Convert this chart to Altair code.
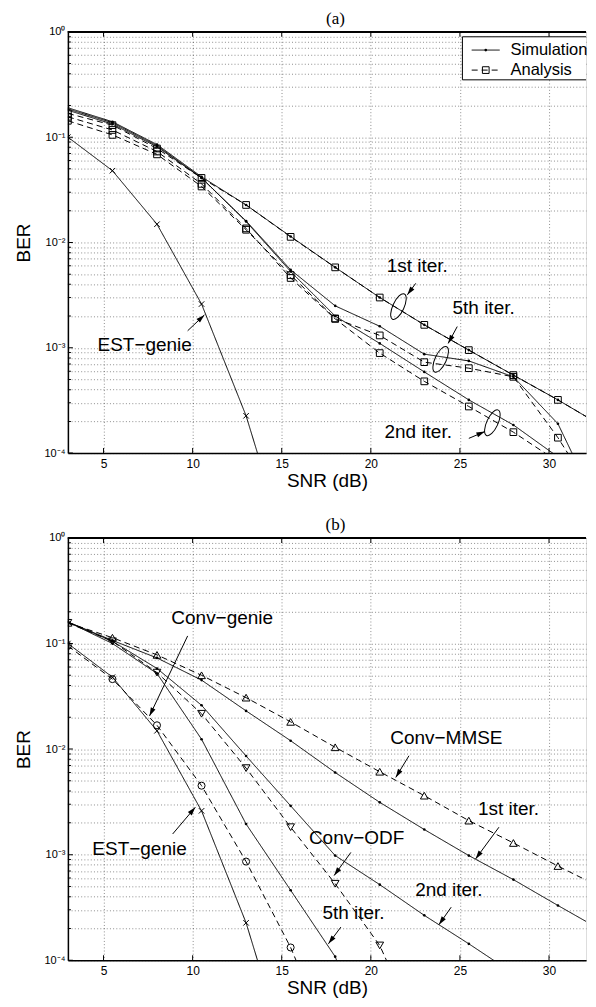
import math
import altair as alt
import pandas as pd

# ---------------- data ----------------
SNR = [3, 5.5, 8, 10.5, 13, 15.5, 18, 20.5, 23, 25.5, 28, 30.5, 33]

# Panel (a)
A_SIM_1ST = [0.19, 0.14, 0.085, 0.042, 0.0227, 0.0114, 0.0058, 0.0030, 0.00165, 0.00095, 0.00055, 0.00032, 0.00018]
A_SIM_2ND = [0.185, 0.137, 0.083, 0.041, 0.0158, 0.0053, 0.0020, 0.0011, 0.00059, 0.00032, 0.000185, 0.000092]
A_SIM_5TH = [0.18, 0.133, 0.081, 0.041, 0.0160, 0.0055, 0.0025, 0.0016, 0.00087, 0.00075, 0.00053, 0.00019, 0.000025]
A_ANA_1ST = [0.168, 0.13, 0.078, 0.041, 0.0227, 0.0113, 0.0058, 0.0030, 0.00165, 0.00095, 0.00055, 0.00032, 0.00018]
A_ANA_2ND = [0.156, 0.117, 0.073, 0.036, 0.0136, 0.0046, 0.00188, 0.00089, 0.00048, 0.000277, 0.000158, 0.000083]
A_ANA_5TH = [0.143, 0.105, 0.0686, 0.034, 0.0132, 0.0049, 0.0019, 0.00131, 0.00073, 0.00064, 0.00053, 0.00014, 0.00003]
EST_GENIE = [0.1, 0.048, 0.0149, 0.0026, 0.000226, 0.0000093]

# Panel (b)
B_CONV_GENIE = [0.095, 0.046, 0.0168, 0.0045, 0.00086, 0.000132, 0.000013]
B_CONV_MMSE = [0.157, 0.1135, 0.078, 0.050, 0.0307, 0.0181, 0.0104, 0.0061, 0.00362, 0.0021, 0.00129, 0.00078, 0.00048]
B_CONV_ODF = [0.157, 0.105, 0.053, 0.0216, 0.0066, 0.00182, 0.00053, 0.000138, 0.000016]
B_SIM_1ST = [0.16, 0.107, 0.073, 0.045, 0.023, 0.012, 0.006, 0.00313, 0.00173, 0.00098, 0.00058, 0.00033, 0.00019]
B_SIM_2ND = [0.16, 0.105, 0.058, 0.026, 0.0086, 0.0029, 0.00098, 0.00052, 0.000266, 0.000143, 0.000075]
B_SIM_5TH = [0.16, 0.10, 0.052, 0.0124, 0.00195, 0.00046, 0.000108, 0.00001]

PANEL_TITLES = ["(a)", "(b)"]

# annotations: (text, snr, ber)
A_TEXTS = [("1st iter.", 22.61, 5.96e-3), ("5th iter.", 26.33, 2.36e-3),
           ("2nd iter.", 22.66, 1.57e-4), ("EST\u2212genie", 7.31, 1.07e-3)]
A_ARROWS = [(22.52, 4.09e-3, 22.05, 3.18e-3), (24.85, 1.59e-3, 24.34, 1.10e-3),
            (25.50, 1.38e-4, 26.40, 1.60e-4), (9.72, 1.45e-3, 10.66, 2.05e-3)]
A_ELLIPSES = [(21.55, 2.46e-3), (23.92, 7.76e-4), (26.82, 1.94e-4)]

B_TEXTS = [("Conv\u2212genie", 11.66, 0.175), ("EST\u2212genie", 7.02, 1.13e-3),
           ("Conv\u2212MMSE", 24.24, 0.0126), ("1st iter.", 27.73, 2.69e-3),
           ("Conv\u2212ODF", 19.20, 1.43e-3), ("2nd iter.", 24.38, 4.61e-4),
           ("5th iter.", 19.03, 2.79e-4)]
B_ARROWS = [(9.72, 0.118, 7.58, 0.0206), (8.88, 1.57e-3, 10.15, 2.81e-3),
            (22.14, 8.64e-3, 21.40, 5.39e-3), (27.19, 1.82e-3, 25.88, 9.11e-4),
            (18.88, 1.05e-3, 17.94, 6.34e-4), (24.51, 3.18e-4, 23.82, 2.17e-4),
            (18.32, 2.06e-4, 17.62, 1.43e-4)]

X_TICKS = [5, 10, 15, 20, 25, 30]
Y_MAJOR = [1e-4, 1e-3, 1e-2, 1e-1, 1.0]
Y_MINOR = [m * 10.0 ** e for e in range(-4, 0) for m in range(2, 10)]
SUP = {0: "10\u2070", -1: "10\u207b\u00b9", -2: "10\u207b\u00b2", -3: "10\u207b\u00b3", -4: "10\u207b\u2074"}

# ---------------- layout constants ----------------
W = 519
H_A, H_B = 422, 423
XMIN = 3
XMAX = 3 + W / 17.85          # same SNR-per-pixel as the reference (window crops its right part)
FONT = "Liberation Sans"

LEGEND_BOX = (25.14, 0.897, XMAX, 0.350)
LEGEND_ROWS = [("Simulation", 0.671, "solid", "dot"), ("Analysis", 0.433, "dashed", "square")]
LEGEND_SAMPLE_X = (25.66, 26.45, 27.23, 27.84)

ELLIPSE = "M 0 -1 A 0.4 1 0 1 1 0 1 A 0.4 1 0 1 1 0 -1 Z"
HEAD = "M 0 0 L 0.6 2 L -0.6 2 Z"
XMARK = "M -1 -1 L 1 1 M -1 1 L 1 -1"


def px(snr, ber, h):
    return (snr - XMIN) / (XMAX - XMIN) * W, -math.log10(ber) / 4 * h


def long_df(series):
    rows = []
    for name, vals, style, marker in series:
        for s, v in zip(SNR, vals):
            rows.append({"series": name, "snr": s, "ber": v, "style": style, "marker": marker})
    return pd.DataFrame(rows)


lab = "abs(log(datum.value)/LN10 - round(log(datum.value)/LN10)) > 0.001 ? '' : "
for e in [0, -1, -2, -3]:
    lab += f"round(log(datum.value)/LN10) == {e} ? '{SUP[e]}' : "
lab += f"'{SUP[-4]}'"

xscale = alt.Scale(domain=[XMIN, XMAX], nice=False, zero=False)
yscale = alt.Scale(type="log", domain=[1e-4, 1], nice=False)
xaxis = alt.Axis(values=X_TICKS, grid=True, ticks=False, tickSize=0, labelFont=FONT, labelFontSize=12,
                 labelPadding=5, labelColor="black", title="SNR (dB)", titleFont=FONT, titleFontSize=19,
                 titleFontWeight="normal", titleColor="black", titlePadding=2, domainColor="black",
                 domainWidth=1.5, gridColor="black", gridOpacity=0.45, gridDash=[1, 2.2], labelFlush=False)
yaxis = alt.Axis(values=sorted(Y_MAJOR + Y_MINOR), labelExpr=lab, grid=True, ticks=False, tickSize=0,
                 labelFont=FONT, labelFontSize=11, labelPadding=3, labelColor="black", labelOverlap=False,
                 title="BER", titleFont=FONT, titleFontSize=19, titleFontWeight="normal", titleColor="black",
                 titlePadding=11, domainColor="black", domainWidth=1.5, gridColor="black", gridOpacity=0.45,
                 gridDash=[1, 2.2], labelFlush=False)


def X(f="snr"):
    return alt.X(f"{f}:Q", scale=xscale, axis=xaxis)


def Y(f="ber"):
    return alt.Y(f"{f}:Q", scale=yscale, axis=yaxis)


MARKS = {
    "dot": dict(shape="circle", filled=True, size=7),
    "square": dict(shape="square", filled=False, size=45),
    "x": dict(shape=XMARK, filled=False, size=30),
    "circle": dict(shape="circle", filled=False, size=50),
    "tri_up": dict(shape="triangle-up", filled=False, size=60),
    "tri_down": dict(shape="triangle-down", filled=False, size=60),
}


def series_layers(df):
    layers = []
    for style, dash in [("solid", [1, 0]), ("dashed", [6, 4])]:
        sub = df[df["style"] == style]
        if len(sub):
            layers.append(alt.Chart(sub).mark_line(color="black", strokeWidth=1, strokeDash=dash, clip=True)
                          .encode(x=X(), y=Y(), detail="series:N"))
    for mk, opts in MARKS.items():
        sub = df[df["marker"] == mk]
        if len(sub):
            layers.append(alt.Chart(sub).mark_point(color="black", opacity=1, strokeWidth=1, clip=True, **opts)
                          .encode(x=X(), y=Y()))
    return layers


def frame_layers(title_text, h):
    xt = pd.DataFrame({"snr": X_TICKS})
    ymaj = pd.DataFrame({"ber": Y_MAJOR})
    ymin = pd.DataFrame({"ber": Y_MINOR})
    L = []
    for yv in [0, h]:
        L.append(alt.Chart(xt).mark_tick(color="black", thickness=1, size=10, opacity=1, clip=True,
                                         orient="vertical").encode(x=X(), y=alt.value(yv)))
    L.append(alt.Chart(ymaj).mark_tick(color="black", thickness=1, size=10, opacity=1, clip=True,
                                       orient="horizontal").encode(y=Y(), x=alt.value(0)))
    L.append(alt.Chart(ymin).mark_tick(color="black", thickness=1, size=6, opacity=1, clip=True,
                                       orient="horizontal").encode(y=Y(), x=alt.value(0)))
    L.append(alt.Chart(xt).mark_rule(color="black", strokeWidth=1.5)
             .encode(x=alt.value(0), x2=alt.value(W), y=alt.value(0)))
    # panel title "(a)" / "(b)" above the plot area
    L.append(alt.Chart(pd.DataFrame({"label": [title_text]}))
             .mark_text(font="Liberation Serif", fontSize=17, color="black", align="center", baseline="middle")
             .encode(text="label:N", x=alt.value(268), y=alt.value(-13)))
    return L


def annotation_layers(texts, arrows, ellipses, h):
    L = []
    tdf = pd.DataFrame(texts, columns=["label", "snr", "ber"])
    L.append(alt.Chart(tdf).mark_text(font=FONT, fontSize=19, color="black", align="center", baseline="middle")
             .encode(x=X(), y=Y(), text="label:N"))
    rows = []
    for x1, y1, x2, y2 in arrows:
        p1, p2 = px(x1, y1, h), px(x2, y2, h)
        ang = math.degrees(math.atan2(p2[0] - p1[0], -(p2[1] - p1[1]))) % 360
        rows.append({"snr": x1, "ber": y1, "snr2": x2, "ber2": y2, "angle": ang})
    adf = pd.DataFrame(rows)
    L.append(alt.Chart(adf).mark_rule(color="black", strokeWidth=1)
             .encode(x=X(), y=Y(), x2="snr2:Q", y2="ber2:Q"))
    hdf = adf[["snr2", "ber2", "angle"]].rename(columns={"snr2": "snr", "ber2": "ber"})
    L.append(alt.Chart(hdf).mark_point(shape=HEAD, filled=True, color="black", opacity=1, size=72)
             .encode(x=X(), y=Y(), angle=alt.Angle("angle:Q", scale=None)))
    if ellipses:
        edf = pd.DataFrame(ellipses, columns=["snr", "ber"])
        L.append(alt.Chart(edf).mark_point(shape=ELLIPSE, filled=False, color="black", opacity=1,
                                           strokeWidth=1, size=784, angle=25)
                 .encode(x=X(), y=Y()))
    return L


def legend_layers():
    x1, y1, x2, y2 = LEGEND_BOX
    box = pd.DataFrame([{"snr": x1, "ber": y1, "snr2": x2, "ber2": y2}])
    L = [alt.Chart(box).mark_rect(fill="white", strokeWidth=0).encode(x=X(), y=Y(), x2="snr2:Q", y2="ber2:Q")]
    edges = pd.DataFrame([
        {"snr": x1, "ber": y1, "snr2": x2, "ber2": y1},
        {"snr": x1, "ber": y2, "snr2": x2, "ber2": y2},
        {"snr": x1, "ber": y1, "snr2": x1, "ber2": y2},
    ])
    L.append(alt.Chart(edges).mark_rule(color="black", strokeWidth=1)
             .encode(x=X(), y=Y(), x2="snr2:Q", y2="ber2:Q"))
    xa, xm, xb, xt = LEGEND_SAMPLE_X
    for label, yv, style, mk in LEGEND_ROWS:
        dash = [1, 0] if style == "solid" else [6, 4]
        seg = pd.DataFrame([{"snr": xa, "ber": yv}, {"snr": xb, "ber": yv}])
        L.append(alt.Chart(seg).mark_line(color="black", strokeWidth=1, strokeDash=dash).encode(x=X(), y=Y()))
        L.append(alt.Chart(pd.DataFrame([{"snr": xm, "ber": yv}]))
                 .mark_point(color="black", opacity=1, strokeWidth=1, **MARKS[mk]).encode(x=X(), y=Y()))
        L.append(alt.Chart(pd.DataFrame([{"snr": xt, "ber": yv, "label": label}]))
                 .mark_text(font=FONT, fontSize=16.5, color="black", align="left", baseline="middle")
                 .encode(x=X(), y=Y(), text="label:N"))
    return L


df_a = long_df([
    ("sim1", A_SIM_1ST, "solid", "dot"), ("sim2", A_SIM_2ND, "solid", "dot"),
    ("sim5", A_SIM_5TH, "solid", "dot"), ("ana1", A_ANA_1ST, "dashed", "square"),
    ("ana2", A_ANA_2ND, "dashed", "square"), ("ana5", A_ANA_5TH, "dashed", "square"),
    ("est", EST_GENIE, "solid", "x"),
])
df_b = long_df([
    ("est", EST_GENIE, "solid", "x"), ("cgenie", B_CONV_GENIE, "dashed", "circle"),
    ("mmse", B_CONV_MMSE, "dashed", "tri_up"), ("odf", B_CONV_ODF, "dashed", "tri_down"),
    ("sim1", B_SIM_1ST, "solid", "dot"), ("sim2", B_SIM_2ND, "solid", "dot"),
    ("sim5", B_SIM_5TH, "solid", "dot"),
])

panel_a = alt.layer(*(frame_layers(PANEL_TITLES[0], H_A) + series_layers(df_a)
                      + annotation_layers(A_TEXTS, A_ARROWS, A_ELLIPSES, H_A) + legend_layers())
                    ).properties(width=W, height=H_A)
panel_b = alt.layer(*(frame_layers(PANEL_TITLES[1], H_B) + series_layers(df_b)
                      + annotation_layers(B_TEXTS, B_ARROWS, None, H_B))
                    ).properties(width=W, height=H_B)

chart = alt.vconcat(panel_a, panel_b, spacing=24).properties(
    padding={"left": 5, "top": 0, "right": 0, "bottom": 0}
).configure_view(stroke=None).configure(background="white")

chart.save("out.html", embed_options={"renderer": "svg", "actions": False})
